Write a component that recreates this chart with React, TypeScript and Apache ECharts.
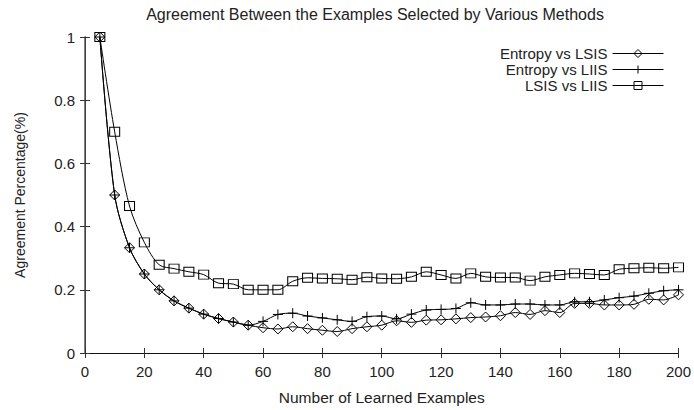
import React, { useEffect, useRef } from "react";
import * as echarts from "echarts";

const xValues = [5, 10, 15, 20, 25, 30, 35, 40, 45, 50, 55, 60, 65, 70, 75, 80, 85, 90, 95, 100,
  105, 110, 115, 120, 125, 130, 135, 140, 145, 150, 155, 160, 165, 170, 175, 180, 185, 190, 195, 200];

const entropyVsLsis = [1.0, 0.5, 0.333, 0.25, 0.2, 0.165, 0.142, 0.123, 0.109, 0.098, 0.088, 0.08, 0.076, 0.083, 0.077, 0.072, 0.068, 0.077, 0.083, 0.088,
  0.102, 0.097, 0.104, 0.105, 0.108, 0.112, 0.114, 0.118, 0.128, 0.122, 0.134, 0.128, 0.157, 0.157, 0.152, 0.152, 0.154, 0.17, 0.168, 0.184];

const entropyVsLiis = [1.0, 0.5, 0.333, 0.25, 0.2, 0.165, 0.142, 0.123, 0.109, 0.098, 0.088, 0.1, 0.122, 0.126, 0.117, 0.111, 0.105, 0.1, 0.115, 0.117,
  0.108, 0.123, 0.136, 0.138, 0.141, 0.159, 0.152, 0.152, 0.155, 0.155, 0.152, 0.152, 0.162, 0.162, 0.168, 0.175, 0.18, 0.189, 0.197, 0.2];

const lsisVsLiis = [1.0, 0.7, 0.465, 0.35, 0.279, 0.267, 0.257, 0.248, 0.221, 0.218, 0.2, 0.2, 0.2, 0.227, 0.238, 0.236, 0.235, 0.232, 0.24, 0.236,
  0.235, 0.241, 0.257, 0.247, 0.236, 0.252, 0.241, 0.239, 0.239, 0.229, 0.241, 0.247, 0.252, 0.25, 0.247, 0.265, 0.268, 0.27, 0.268, 0.271];

const seriesNames = ["Entropy vs LSIS", "Entropy vs LIIS", "LSIS vs LIIS"];

const FONT = "Liberation Sans";
const TXT = "#222";

export default function App() {
  const ref = useRef<HTMLDivElement>(null);
  useEffect(() => {
    if (!ref.current) return;
    const chart = echarts.init(ref.current, undefined, { renderer: "svg" });
    const pair = (ys: number[]) => xValues.map((x, i) => [x, ys[i]]);
    const mk = (name: string, ys: number[], symbol: string, size: number | number[]) => ({
      name,
      type: "line",
      data: pair(ys),
      smooth: 0.3,
      symbol,
      symbolSize: size,
      showAllSymbol: true,
      lineStyle: { color: "#000", width: 1 },
      itemStyle: { color: "rgba(0,0,0,0)", borderColor: "#000", borderWidth: 1 },
      emphasis: { disabled: true },
    });
    const tickStyle = { inside: true, length: 5, lineStyle: { color: "#333" } };
    chart.setOption({
      animation: false,
      textStyle: { fontFamily: FONT, color: TXT },
      title: {
        text: "Agreement Between the Examples Selected by Various Methods",
        left: 370,
        textAlign: "center",
        top: 1,
        textStyle: { fontFamily: FONT, fontSize: 16, fontWeight: "normal", color: TXT },
      },
      legend: {
        orient: "vertical",
        right: 25,
        top: 41,
        align: "right",
        itemWidth: 51,
        itemHeight: 10,
        itemGap: 1,
        itemStyle: { color: "rgba(0,0,0,0)", borderColor: "#000", borderWidth: 1 },
        lineStyle: { color: "#000", width: 1 },
        textStyle: { fontFamily: FONT, fontSize: 15, color: TXT, lineHeight: 14, padding: [0, 0, 0, 0] },
        data: seriesNames,
      },
      grid: { left: 85, right: 15, top: 37, bottom: 57 },
      xAxis: [
        {
          type: "value",
          min: 0,
          max: 200,
          interval: 20,
          position: "bottom",
          name: "Number of Learned Examples",
          nameLocation: "middle",
          nameGap: 36,
          nameTextStyle: { fontFamily: FONT, fontSize: 15.5, color: TXT },
          axisLine: { show: true, lineStyle: { color: "#111" } },
          axisTick: tickStyle,
          axisLabel: { margin: 11, fontFamily: FONT, fontSize: 15, color: TXT },
          splitLine: { show: false },
        },
        {
          type: "value",
          min: 0,
          max: 200,
          interval: 20,
          position: "top",
          axisLine: { show: true, lineStyle: { color: "#111" } },
          axisTick: tickStyle,
          axisLabel: { show: false },
          splitLine: { show: false },
        },
      ],
      yAxis: [
        {
          type: "value",
          min: 0,
          max: 1,
          interval: 0.2,
          position: "left",
          name: "Agreement Percentage(%)",
          nameLocation: "middle",
          nameGap: 58,
          nameRotate: 90,
          nameTextStyle: { fontFamily: FONT, fontSize: 14, color: TXT },
          axisLine: { show: true, lineStyle: { color: "#111" } },
          axisTick: tickStyle,
          axisLabel: { margin: 10, fontFamily: FONT, fontSize: 15, color: TXT },
          splitLine: { show: false },
        },
        {
          type: "value",
          min: 0,
          max: 1,
          interval: 0.2,
          position: "right",
          axisLine: { show: true, lineStyle: { color: "#555", width: 1.5 } },
          axisTick: tickStyle,
          axisLabel: { show: false },
          splitLine: { show: false },
        },
      ],
      series: [
        mk(seriesNames[0], entropyVsLsis, "diamond", [10, 10]),
        mk(seriesNames[1], entropyVsLiis, "path://M0,5L10,5M5,0L5,10", [10, 10]),
        mk(seriesNames[2], lsisVsLiis, "rect", [10, 9]),
      ],
    });
    return () => chart.dispose();
  }, []);
  return (
    <div
      ref={ref}
      style={{ position: "absolute", left: 0, top: 0, width: 694, height: 410, overflow: "hidden" }}
    />
  );
}
